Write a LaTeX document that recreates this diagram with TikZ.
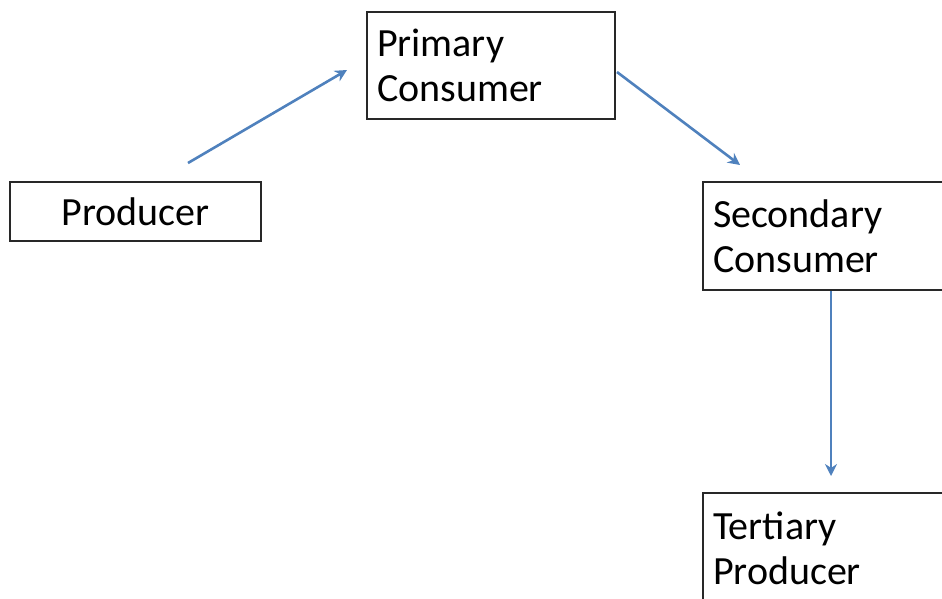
\documentclass[tikz,border=0pt]{standalone}
\usepackage{fontspec}
\setmainfont{Carlito}
\usetikzlibrary{arrows.meta, positioning, calc}
\definecolor{flowblue}{RGB}{79,129,189}
\definecolor{boxline}{RGB}{40,40,40}
\tikzset{
  stage/.style={draw=boxline, line width=1.2pt, rectangle, inner xsep=10pt, inner ysep=0pt,
    font=\fontsize{40}{45}\selectfont},
  flow/.style={draw=flowblue, line width=2.6pt, -{Stealth[length=12pt, width=12pt]}}
}
\begin{document}
\begin{tikzpicture}[x=1pt, y=-1pt]
      \useasboundingbox (0, 0) rectangle (942, 598);
      \clip (0, 0) rectangle (942, 598);

      \node[stage, text width=231pt, align=center, minimum height=59pt] (prod) at (135.5, 211.5) {Producer};
      \node[stage, text width=228pt, align=left, minimum height=107pt] (prim) at (491, 65.5) {Primary\\Consumer};
      \node[stage, text width=280pt, align=left, minimum height=108pt] (sec) at (853, 236) {Secondary\\Consumer};
      \node[stage, text width=280pt, align=left, minimum height=110pt] (tert) at (853, 548) {Tertiary\\Producer};

      \coordinate (p1) at (188, 163);
      \coordinate (p2) at (347, 70);
      \coordinate (s1) at (617, 72);
      \coordinate (s2) at (740, 165);
      \coordinate (t1) at (831, 291);
      \coordinate (t2) at (831, 476);

      \draw[flow] (p1) -- (p2);
      \draw[flow] (s1) -- (s2);
      \draw[flow] (t1) -- (t2);

    \end{tikzpicture}
\end{document}
